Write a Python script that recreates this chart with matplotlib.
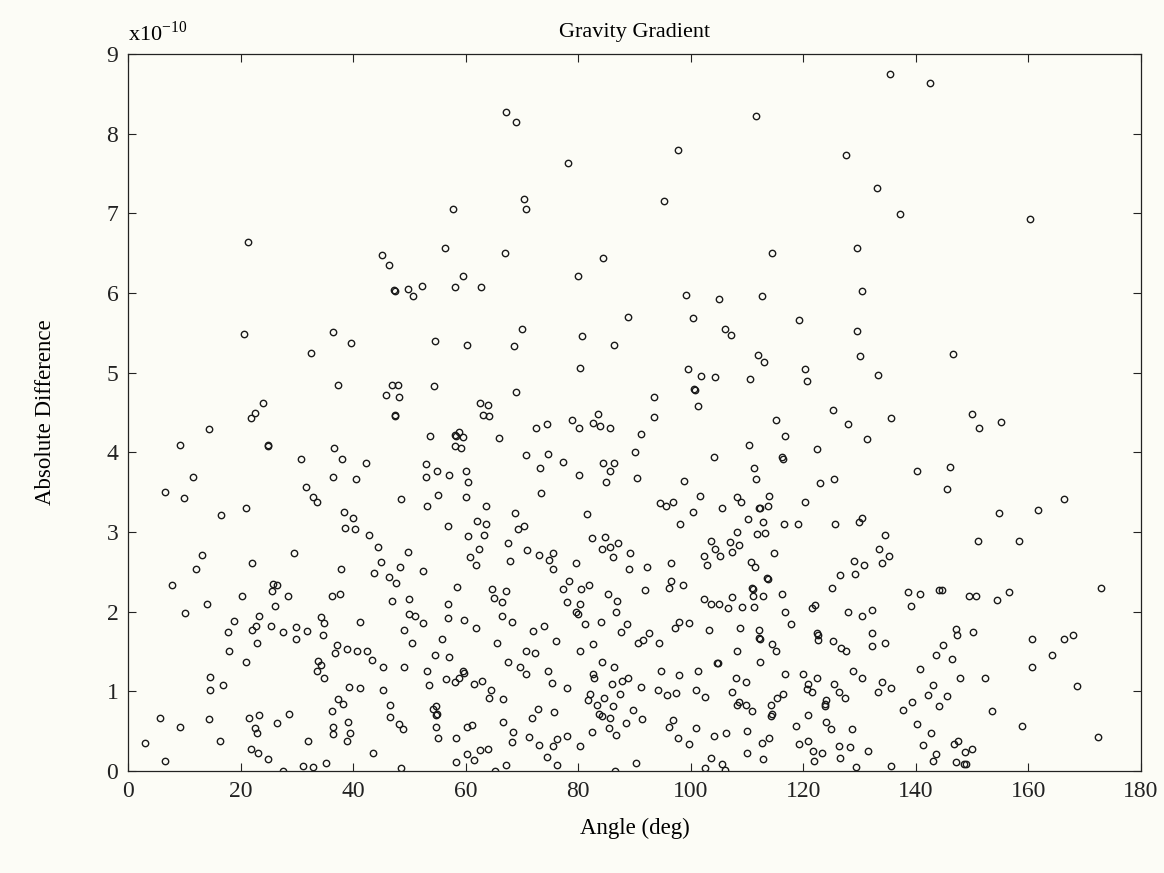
import numpy as np
import matplotlib
matplotlib.use("Agg")
import matplotlib.pyplot as plt

# angle (deg) / absolute difference (units of 1e-10), read in bands from top to bottom
angle_top = [21.4, 45.1, 67.1, 68.9, 78.2, 70.4, 70.8, 57.7, 56.3, 67.0, 84.5, 46.4, 59.6, 80.0,
             135.4, 111.6, 97.8, 127.6, 133.2, 95.2, 114.5, 129.6, 142.5, 137.2, 160.3]
diff_top = [6.64, 6.48, 8.27, 8.15, 7.63, 7.18, 7.05, 7.06, 6.57, 6.50, 6.44, 6.35, 6.21, 6.22,
            8.75, 8.22, 7.80, 7.73, 7.32, 7.16, 6.50, 6.57, 8.64, 6.99, 6.93]

angle_mid = [20.7, 36.5, 39.7, 32.6, 37.3, 24.0, 22.6, 21.8, 14.4, 9.3, 24.8, 24.9, 36.6, 30.8,
             38.0, 42.3, 11.5, 36.4, 40.6, 6.6, 10.0, 31.6, 32.8, 33.6, 21.0, 16.6, 38.4, 39.9,
             38.6, 40.3,
             47.3, 47.5, 49.8, 50.6, 52.2, 58.1, 62.8, 88.8, 70.1, 80.7, 86.4, 54.5, 60.3, 68.6,
             80.4, 47.0, 47.9, 45.9, 48.1, 54.4, 68.9, 47.4, 47.5, 62.6, 63.9, 63.1, 64.2, 53.7,
             58.1, 58.3, 58.8, 59.5, 58.1, 59.2, 66.0, 72.6, 74.4, 78.9, 80.2, 83.5, 82.7, 83.9,
             85.6, 91.2, 90.1, 90.4, 70.8, 74.6, 77.3, 73.2, 80.1, 84.5, 86.4, 85.6, 84.9, 53.0,
             53.0, 55.0, 57.1, 60.1, 60.5, 48.5, 53.1, 55.1, 60.1, 63.7, 73.4, 68.7, 81.6, 56.9,
             62.1, 63.6, 69.4, 70.4,
             99.1, 105.1, 112.7, 130.5, 100.5, 119.3, 129.5, 106.1, 107.1, 111.9, 113.1, 130.1,
             99.6, 101.8, 104.3, 110.6, 120.4, 120.6, 133.3, 100.6, 100.8, 93.5, 101.3, 93.5,
             125.3, 127.9, 135.6, 115.1, 116.8, 131.4, 110.3, 122.4, 104.1, 116.2, 116.5, 111.2,
             111.6, 98.8, 123.0, 125.4, 94.5, 95.6, 96.8, 101.6, 100.5, 105.6, 108.2, 109.0,
             113.9, 113.7, 112.1, 112.4, 120.4, 98.1, 110.2, 112.8, 116.6, 119.0, 125.6, 130.5,
             129.9,
             146.6, 150.0, 151.2, 155.2, 140.2, 146.1, 145.6, 166.3, 154.8, 161.7]
diff_mid = [5.48, 5.51, 5.37, 5.25, 4.85, 4.62, 4.49, 4.43, 4.29, 4.09, 4.09, 4.08, 4.06, 3.92,
            3.92, 3.86, 3.69, 3.69, 3.66, 3.50, 3.43, 3.57, 3.44, 3.37, 3.30, 3.21, 3.25, 3.18,
            3.05, 3.04,
            6.04, 6.02, 6.05, 5.96, 6.09, 6.07, 6.07, 5.70, 5.55, 5.46, 5.35, 5.40, 5.35, 5.33,
            5.06, 4.85, 4.85, 4.72, 4.69, 4.83, 4.76, 4.47, 4.45, 4.62, 4.60, 4.47, 4.46, 4.21,
            4.22, 4.20, 4.26, 4.19, 4.08, 4.05, 4.18, 4.31, 4.36, 4.40, 4.31, 4.48, 4.37, 4.33,
            4.30, 4.23, 4.00, 3.68, 3.96, 3.98, 3.88, 3.80, 3.72, 3.87, 3.87, 3.76, 3.63, 3.85,
            3.69, 3.76, 3.72, 3.76, 3.63, 3.41, 3.32, 3.46, 3.44, 3.32, 3.49, 3.24, 3.22, 3.08,
            3.14, 3.10, 3.04, 3.07,
            5.98, 5.93, 5.96, 6.03, 5.69, 5.66, 5.52, 5.55, 5.47, 5.22, 5.13, 5.21,
            5.04, 4.96, 4.94, 4.92, 5.04, 4.90, 4.97, 4.80, 4.78, 4.70, 4.58, 4.44,
            4.53, 4.36, 4.43, 4.40, 4.20, 4.17, 4.09, 4.04, 3.94, 3.94, 3.92, 3.80,
            3.66, 3.64, 3.62, 3.66, 3.36, 3.33, 3.38, 3.45, 3.25, 3.30, 3.44, 3.37,
            3.45, 3.33, 3.30, 3.30, 3.37, 3.10, 3.16, 3.12, 3.10, 3.10, 3.10, 3.17,
            3.12,
            5.24, 4.48, 4.30, 4.38, 3.76, 3.82, 3.54, 3.41, 3.24, 3.27]

angle_low = [42.8, 44.5, 45.0, 43.8, 13.2, 12.1, 7.8, 22.0, 29.5, 37.8, 25.7, 26.4, 25.5, 20.2,
             28.5, 36.2, 37.7, 14.0, 10.1, 26.1, 23.3, 18.9, 17.8, 22.0, 22.7, 25.4, 27.6, 29.9,
             31.8, 29.8, 23.0, 34.3, 34.8, 34.6, 41.2, 17.9, 21.0, 37.2, 36.7, 39.0, 40.7, 42.5,
             43.3, 45.4, 33.7, 34.3, 33.5, 34.8, 14.5, 14.5, 16.8, 39.3, 41.2, 45.3, 37.4, 38.2,
             36.2, 5.7, 9.3, 14.4, 21.5, 23.2, 28.6, 26.5, 22.5, 22.9, 36.4, 36.4, 39.1, 39.4,
             39.0, 3.1, 16.4, 32.0, 21.8, 23.1, 24.8, 6.6, 27.5, 31.1, 32.8, 35.2, 43.5,
             60.4, 63.3, 62.4, 60.8, 61.8, 67.5, 67.9, 71.0, 73.1, 75.6, 74.9, 75.5, 79.7, 82.4,
             84.8, 84.2, 85.6, 87.1, 86.2, 89.3, 89.0, 49.8, 48.3, 52.4, 46.3, 47.6, 58.4, 47.0,
             49.9, 56.8, 50.0, 51.0, 52.5, 56.8, 59.7, 61.8, 64.7, 67.1, 65.1, 66.4, 66.4, 68.2,
             49.0, 50.5, 55.8, 54.5, 57.0, 65.6, 71.9, 73.9, 76.0, 70.8, 72.4, 67.6, 69.7, 70.7,
             78.4, 77.3, 80.5, 81.9, 78.0, 80.3, 79.7, 79.9, 81.3, 84.0, 85.3, 86.9, 86.7, 88.6,
             87.7, 90.6, 80.4, 82.6, 84.2, 86.4, 82.7, 82.9, 86.1, 87.8, 88.9, 87.4, 91.1, 74.6,
             75.3, 78.0, 49.0, 53.2, 53.5, 59.6, 59.8, 56.6, 58.1, 58.8, 61.5, 63.0, 64.6, 64.1,
             66.6, 46.6, 46.6, 48.2, 48.8, 54.2, 54.7, 54.8, 54.9, 54.7, 55.1, 58.3, 60.3, 61.1,
             58.3, 60.3, 61.5, 62.5, 63.9, 48.5, 65.2, 67.1, 66.6, 68.5, 68.2, 71.3, 73.0, 71.8,
             72.9, 75.8, 75.5, 76.3, 78.1, 74.4, 76.2, 80.3, 82.5, 82.1, 81.8, 83.3, 84.6, 83.7,
             84.3, 85.6, 86.2, 85.5, 86.8, 88.5, 89.8, 86.5, 90.3,
             108.2, 111.8, 113.3, 103.6, 104.3, 105.2, 102.4, 102.9, 107.0, 108.6, 107.4, 114.8,
             134.6, 133.5, 135.2, 134.0, 129.0, 130.8, 126.5, 129.2, 125.2, 92.3, 96.5, 91.9,
             96.5, 96.2, 98.7, 110.8, 111.4, 113.5, 113.7, 110.9, 111.0, 111.1, 112.9, 116.2,
             102.3, 103.6, 105.0, 106.6, 107.4, 109.1, 111.2, 116.7, 117.8, 121.5, 122.1, 128.0,
             130.4, 132.3, 132.3, 132.3, 134.5, 91.6, 92.6, 94.4, 97.3, 97.9, 99.7, 103.2, 108.8,
             112.1, 112.1, 112.3, 114.5, 115.1, 108.2, 112.4, 122.4, 122.6, 122.7, 125.3, 126.8,
             127.6, 104.6, 104.8, 94.8, 97.9, 101.3, 108.0, 109.8, 116.7, 120.0, 120.9, 122.5,
             121.5, 120.6, 128.9, 130.4, 134.0, 133.3, 135.6, 125.4, 126.3, 127.4, 124.0, 123.8,
             123.9, 94.2, 95.8, 97.4, 101.0, 102.6, 107.4, 108.6, 108.2, 109.8, 110.9, 116.4,
             115.3, 114.2, 114.3, 114.5, 91.4, 96.9, 96.2, 97.7, 99.7, 100.9, 104.1, 106.2, 110.0,
             120.9, 118.7, 124.1, 125.0, 128.6, 112.7, 113.9, 110.0, 112.9, 119.3, 120.8, 121.8,
             123.4, 121.9, 126.3, 128.3, 126.5, 131.5, 129.4, 135.6, 103.6, 102.6, 105.5, 106.1,
             151.0, 158.3, 138.6, 140.8, 144.2, 144.6, 149.5, 150.7, 154.4, 156.6, 139.1, 172.9,
             147.1, 147.4, 150.1, 144.9, 143.6, 146.5, 160.7, 166.3, 167.9, 164.2, 160.6, 168.6,
             140.7, 147.9, 152.3, 143.0, 142.2, 145.5, 144.2, 139.4, 137.8, 153.5, 140.2, 142.8,
             158.9, 172.4, 141.3, 146.8, 147.5, 143.7, 143.1, 148.7, 150.0, 147.2, 148.5, 149.0]
diff_low = [2.96, 2.81, 2.62, 2.48, 2.71, 2.54, 2.33, 2.61, 2.74, 2.53, 2.35, 2.33, 2.26, 2.20,
            2.20, 2.20, 2.22, 2.09, 1.98, 2.07, 1.94, 1.88, 1.74, 1.77, 1.82, 1.82, 1.74, 1.81,
            1.75, 1.65, 1.61, 1.93, 1.86, 1.71, 1.87, 1.50, 1.37, 1.58, 1.48, 1.53, 1.51, 1.51,
            1.39, 1.30, 1.38, 1.33, 1.25, 1.17, 1.18, 1.01, 1.08, 1.05, 1.04, 1.01, 0.90, 0.84,
            0.75, 0.67, 0.55, 0.65, 0.67, 0.70, 0.72, 0.60, 0.54, 0.47, 0.55, 0.46, 0.61, 0.48,
            0.37, 0.35, 0.38, 0.38, 0.28, 0.22, 0.15, 0.12, 0.00, 0.06, 0.05, 0.10, 0.23,
            2.95, 2.96, 2.79, 2.68, 2.59, 2.86, 2.64, 2.77, 2.71, 2.73, 2.65, 2.54, 2.61, 2.92,
            2.94, 2.79, 2.81, 2.86, 2.69, 2.74, 2.54, 2.75, 2.56, 2.51, 2.44, 2.36, 2.31, 2.13,
            2.16, 2.10, 1.97, 1.95, 1.86, 1.92, 1.90, 1.79, 2.28, 2.26, 2.17, 2.12, 1.94, 1.87,
            1.77, 1.60, 1.66, 1.46, 1.43, 1.61, 1.75, 1.82, 1.63, 1.50, 1.48, 1.37, 1.30, 1.22,
            2.38, 2.28, 2.28, 2.33, 2.12, 2.10, 1.99, 1.97, 1.84, 1.87, 2.22, 2.13, 1.99, 1.84,
            1.74, 1.60, 1.51, 1.59, 1.37, 1.31, 1.22, 1.16, 1.09, 1.13, 1.16, 0.97, 1.05, 1.25,
            1.10, 1.04, 1.30, 1.26, 1.08, 1.25, 1.23, 1.15, 1.12, 1.16, 1.09, 1.13, 1.01, 0.91,
            0.90, 0.83, 0.68, 0.59, 0.53, 0.78, 0.82, 0.70, 0.72, 0.55, 0.41, 0.41, 0.55, 0.58,
            0.11, 0.21, 0.14, 0.26, 0.28, 0.04, 0.00, 0.07, 0.61, 0.49, 0.36, 0.42, 0.33, 0.66,
            0.78, 0.74, 0.31, 0.40, 0.44, 0.17, 0.07, 0.31, 0.49, 0.96, 0.89, 0.83, 0.91, 0.72,
            0.69, 0.66, 0.81, 0.54, 0.45, 0.60, 0.77, 0.00, 0.10,
            3.00, 2.97, 2.99, 2.89, 2.79, 2.70, 2.70, 2.59, 2.88, 2.84, 2.75, 2.74,
            2.96, 2.79, 2.70, 2.61, 2.63, 2.59, 2.46, 2.47, 2.30, 2.56, 2.61, 2.27,
            2.38, 2.29, 2.33, 2.62, 2.56, 2.42, 2.41, 2.30, 2.28, 2.20, 2.20, 2.22,
            2.16, 2.10, 2.10, 2.04, 2.18, 2.06, 2.06, 2.00, 1.84, 2.04, 2.08, 2.00,
            1.94, 2.02, 1.73, 1.57, 1.61, 1.64, 1.73, 1.60, 1.80, 1.87, 1.86, 1.77, 1.80,
            1.77, 1.67, 1.66, 1.59, 1.51, 1.50, 1.37, 1.73, 1.71, 1.64, 1.63, 1.54,
            1.50, 1.36, 1.35, 1.25, 1.20, 1.25, 1.16, 1.11, 1.22, 1.22, 1.09, 1.16,
            0.99, 1.03, 1.25, 1.17, 1.11, 0.99, 1.04, 1.09, 0.99, 0.92, 0.89, 0.82,
            0.84, 1.01, 0.95, 0.98, 1.02, 0.93, 0.99, 0.87, 0.83, 0.83, 0.75, 0.97,
            0.91, 0.83, 0.69, 0.71, 0.65, 0.64, 0.55, 0.41, 0.34, 0.54, 0.44, 0.48, 0.50,
            0.70, 0.56, 0.61, 0.52, 0.52, 0.35, 0.41, 0.23, 0.15, 0.34, 0.38, 0.25,
            0.22, 0.13, 0.31, 0.30, 0.16, 0.25, 0.05, 0.06, 0.16, 0.03, 0.09, 0.01,
            2.89, 2.89, 2.24, 2.22, 2.27, 2.27, 2.20, 2.20, 2.14, 2.25, 2.07, 2.30,
            1.78, 1.71, 1.74, 1.58, 1.45, 1.41, 1.65, 1.66, 1.71, 1.46, 1.31, 1.07,
            1.28, 1.17, 1.17, 1.08, 0.95, 0.94, 0.81, 0.86, 0.76, 0.75, 0.59, 0.48,
            0.56, 0.43, 0.32, 0.34, 0.38, 0.21, 0.13, 0.24, 0.28, 0.11, 0.08, 0.08]

angle = np.array(angle_top + angle_mid + angle_low)
diff = np.array(diff_top + diff_mid + diff_low)

plt.rcParams['font.family'] = ['Liberation Serif', 'DejaVu Serif']

fig = plt.figure(figsize=(11.64, 8.73), dpi=100, facecolor='#fcfcf6')
ax = fig.add_axes([0.110, 0.117, 0.870, 0.821], facecolor='#fcfcf6')

ax.plot(angle, diff, 'o', mfc='none', mec='#1a1a1a', ms=4.6, mew=1.0, ls='none')

ax.set_xlim(0, 180)
ax.set_ylim(0, 9)
ax.set_xticks(np.arange(0, 181, 20))
ax.set_yticks(np.arange(0, 10, 1))
ax.tick_params(direction='in', top=True, right=True, length=6, width=0.8,
               labelsize=17, pad=7, colors='#222222')
for s in ax.spines.values():
    s.set_linewidth(0.9)
    s.set_color('#222222')

ax.set_xlabel('Angle (deg)', fontsize=16.5, labelpad=12)
ax.set_ylabel('Absolute Difference', fontsize=16.5, labelpad=36)
ax.set_title('Gravity Gradient', fontsize=16, pad=12)
ax.text(0.0, 1.012, r'x10$^{\mathregular{-10}}$', transform=ax.transAxes,
        fontsize=16, ha='left', va='bottom')

fig.savefig('out.png', dpi=100, facecolor=fig.get_facecolor())
